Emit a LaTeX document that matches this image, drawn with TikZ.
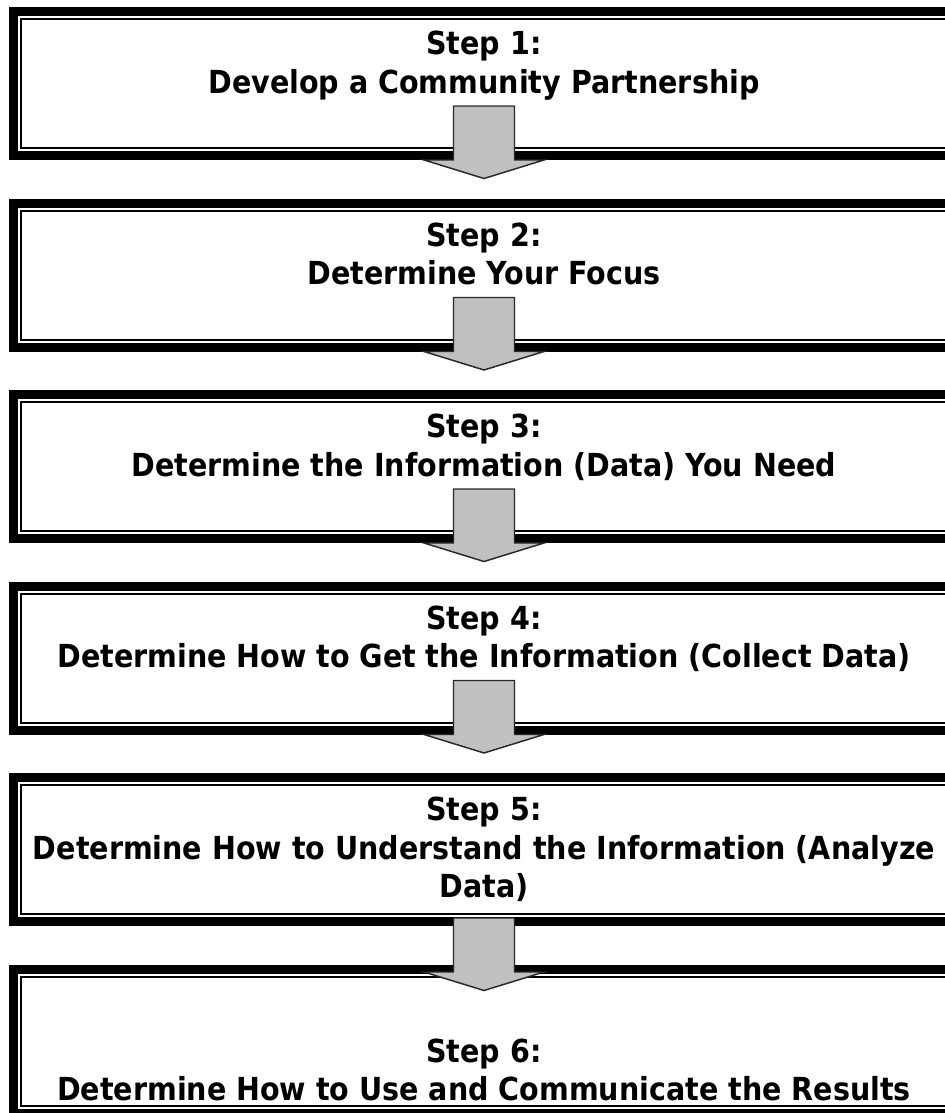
\documentclass[tikz,border=0pt]{standalone}
\usepackage{fontspec}
\setmainfont{DejaVu Sans Condensed}
\usepackage{tikz}
\usetikzlibrary{positioning,calc}
\usepackage{xcolor}
\definecolor{arrowgray}{RGB}{192,192,192}
\definecolor{arrowline}{RGB}{40,40,40}

% block arrow hanging from its head base (#1)
\newcommand{\steparrow}[1]{%
  \draw[arrowshape] (#1) ++(-30.5,-54) -- ++(61,0) -- ++(0,54) -- ++(29.5,0)
    -- ++(-60,18.5) -- ++(-60,-18.5) -- ++(29.5,0) -- cycle;}

\begin{document}
\begin{tikzpicture}[
    x=0.75pt, y=-0.75pt,
    font={\bfseries\fontsize{23.8}{28.9}\selectfont},
    node distance=28.875pt,
    stepbox/.style={rectangle, draw, line width=6.75pt, minimum width=705.75pt, minimum height=108pt, inner sep=0pt,
        path picture={\draw[line width=1.5pt] ([xshift=5.625pt,yshift=-5.625pt]path picture bounding box.north west) rectangle ([xshift=-5.625pt,yshift=5.625pt]path picture bounding box.south east);}},
    steptext/.style={align=center, inner sep=0pt},
    arrowshape/.style={fill=arrowgray, draw=arrowline, line width=1.1pt, line join=miter}
]
    \useasboundingbox (0,0) rectangle (945,1113);
    \clip (0,0) rectangle (945,1113);
    \fill[white] (0,0) rectangle (945,1113);

    % Boxes
    \node[stepbox] (b1) at (484,83.5) {};
    \node[stepbox, below=of b1] (b2) {};
    \node[stepbox, below=of b2] (b3) {};
    \node[stepbox, below=of b3] (b4) {};
    \node[stepbox, below=of b4] (b5) {};
    \node[stepbox, below=of b5] (b6) {};

    % Step texts
    \node[steptext, below=18pt of b1.north] (t1) {Step 1:\\Develop a Community Partnership};
    \node[steptext, below=18pt of b2.north] (t2) {Step 2:\\Determine Your Focus};
    \node[steptext, below=18pt of b3.north] (t3) {Step 3:\\Determine the Information (Data) You Need};
    \node[steptext, below=18pt of b4.north] (t4) {Step 4:\\Determine How to Get the Information (Collect Data)};
    \node[steptext, below=18pt of b5.north] (t5) {Step 5:\\Determine How to Understand the Information (Analyze\\Data)};
    \node[steptext, below=55.5pt of b6.north] (t6) {Step 6:\\Determine How to Use and Communicate the Results};

    % Arrows between steps
    \coordinate (a1) at (b1.south);
    \coordinate (a2) at (b2.south);
    \coordinate (a3) at (b3.south);
    \coordinate (a4) at (b4.south);
    \coordinate (a5) at ([yshift=-34.5pt]b5.south);
    \steparrow{a1}
    \steparrow{a2}
    \steparrow{a3}
    \steparrow{a4}
    \steparrow{a5}
\end{tikzpicture}
\end{document}
